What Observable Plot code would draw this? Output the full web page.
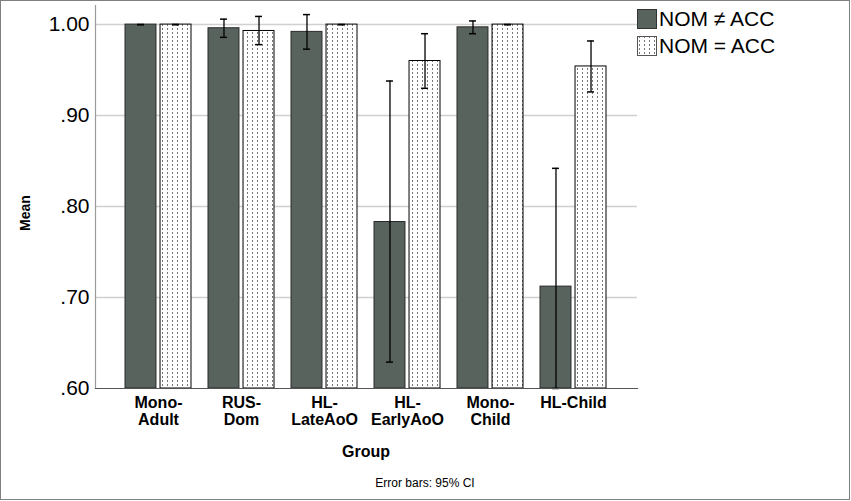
<!DOCTYPE html>
<html>
<head>
<meta charset="utf-8">
<script src="https://cdn.jsdelivr.net/npm/d3@7"></script>
<script src="https://cdn.jsdelivr.net/npm/@observablehq/plot@0.6"></script>
<style>
  html, body { margin: 0; padding: 0; background: #fff; }
  body { font-family: "Liberation Sans", Arial, sans-serif; }
  #wrap { position: relative; width: 851px; height: 501px; overflow: hidden; background: #fff; }
  #frame { position: absolute; left: 0; top: 0; width: 848px; height: 498px; border: 1px solid #808080; pointer-events: none; }
  #chart { position: absolute; left: 0; top: 0; }
  .lbl { position: absolute; white-space: nowrap; color: #000; transform: translate(-50%, -50%); }
  #ylab { left: 25px; top: 213px; font-size: 14px; font-weight: bold; transform: translate(-50%, -50%) rotate(-90deg); }
  #xlab { left: 366px; top: 452px; font-size: 16px; font-weight: bold; }
  #cap { left: 425px; top: 483px; font-size: 12px; }
  #legend { position: absolute; left: 637px; top: 5px; font-size: 21px; color: #000; }
  .row { display: flex; align-items: center; height: 27px; }
  .sw { width: 20px; height: 20px; margin-right: 2px; }
  g[aria-label="x-axis tick label"] text { font-weight: bold; }
</style>
</head>
<body>
<div id="wrap">
  <div id="chart"></div>
  <div id="ylab" class="lbl">Mean</div>
  <div id="xlab" class="lbl">Group</div>
  <div id="cap" class="lbl">Error bars: 95% CI</div>
  <div id="legend"></div>
  <div id="frame"></div>
</div>
<script>
// ---- data ----
const categories = ["Mono-Adult", "RUS-Dom", "HL-LateAoO", "HL-EarlyAoO", "Mono-Child", "HL-Child"];
const tickLabels = ["Mono-\nAdult", "RUS-\nDom", "HL-\nLateAoO", "HL-\nEarlyAoO", "Mono-\nChild", "HL-Child"];
const series = ["NOM \u2260 ACC", "NOM = ACC"];
const meanNeq = [1.000, 0.996, 0.992, 0.783, 0.997, 0.712];
const lowNeq  = [1.000, 0.986, 0.973, 0.629, 0.990, 0.600];
const highNeq = [1.000, 1.006, 1.011, 0.938, 1.004, 0.842];
const meanEq  = [1.000, 0.993, 1.000, 0.960, 1.000, 0.954];
const lowEq   = [1.000, 0.978, 1.000, 0.930, 1.000, 0.926];
const highEq  = [1.000, 1.009, 1.000, 0.990, 1.000, 0.982];
const yTicks = [0.6, 0.7, 0.8, 0.9, 1.0];
const yDomain = [0.6, 1.021];

// ---- layout / style ----
const W = 851, H = 501;
const ml = 95, mr = 214, mt = 5, mb = 113;
const pInner = 0.2, pOuter = 0.333;
const darkFill = "#59635d";
const dotColor = "#777";

const rowsA = categories.map((c, i) => ({group: c, series: series[0], mean: meanNeq[i], lo: lowNeq[i], hi: highNeq[i]}));
const rowsB = categories.map((c, i) => ({group: c, series: series[1], mean: meanEq[i], lo: lowEq[i], hi: highEq[i]}));

const step = (W - ml - mr) / (categories.length - pInner + 2 * pOuter);
const bw = step * (1 - pInner);
const gap = 3;
const barW = (bw - gap) / 2;
const off = (barW + gap) / 2;
const capHalf = 4;

const fmt = d => d3.format(".2f")(d).replace(/^0/, "");
const patternHTML = id => '<pattern id="' + id + '" patternUnits="userSpaceOnUse" x="0" y="0" width="5" height="4">' +
  '<rect width="5" height="4" fill="#fff"/><rect x="2" y="0" width="1" height="2" fill="' + dotColor + '"/></pattern>';

const svg = Plot.plot({
  width: W, height: H,
  marginLeft: ml, marginRight: mr, marginTop: mt, marginBottom: mb,
  style: {fontFamily: "'Liberation Sans', Arial, sans-serif", background: "transparent", color: "#000"},
  x: {type: "band", domain: categories, paddingInner: pInner, paddingOuter: pOuter, label: null},
  y: {domain: yDomain, label: null},
  marks: [
    Plot.ruleY(yTicks.slice(1), {stroke: "#d0d0d0", strokeWidth: 1.5}),
    Plot.barY(rowsA, {x: "group", y1: () => yDomain[0], y2: "mean", fill: darkFill, stroke: "#2a2a2a", strokeWidth: 1, insetRight: bw - barW}),
    Plot.barY(rowsB, {x: "group", y1: () => yDomain[0], y2: "mean", fill: "url(#dots)", stroke: "#000", strokeWidth: 1, insetLeft: bw - barW}),
    Plot.ruleX(rowsA, {x: "group", y1: "lo", y2: "hi", dx: -off, stroke: "#000", strokeWidth: 1.3}),
    Plot.ruleX(rowsB, {x: "group", y1: "lo", y2: "hi", dx: off, stroke: "#000", strokeWidth: 1.3}),
    Plot.tickY(rowsA, {x: "group", y: "lo", insetLeft: barW / 2 - capHalf, insetRight: bw - barW / 2 - capHalf, stroke: "#000", strokeWidth: 1.5}),
    Plot.tickY(rowsA, {x: "group", y: "hi", insetLeft: barW / 2 - capHalf, insetRight: bw - barW / 2 - capHalf, stroke: "#000", strokeWidth: 1.5}),
    Plot.tickY(rowsB, {x: "group", y: "lo", insetLeft: bw - barW / 2 - capHalf, insetRight: barW / 2 - capHalf, stroke: "#000", strokeWidth: 1.5}),
    Plot.tickY(rowsB, {x: "group", y: "hi", insetLeft: bw - barW / 2 - capHalf, insetRight: barW / 2 - capHalf, stroke: "#000", strokeWidth: 1.5}),
    Plot.frame({anchor: "left", stroke: "#9a9a9a", strokeWidth: 1.2}),
    Plot.frame({anchor: "bottom", stroke: "#555", strokeWidth: 1.2}),
    Plot.axisY({ticks: yTicks, tickSize: 0, tickPadding: 6, tickFormat: fmt, fontSize: 21, label: null}),
    Plot.axisX({tickSize: 0, tickPadding: 7, tickFormat: d => tickLabels[categories.indexOf(d)], fontSize: 16, fontWeight: "bold", lineHeight: 1.06, label: null})
  ]
});

d3.select(svg).insert("defs", ":first-child").html(patternHTML("dots"));
document.getElementById("chart").appendChild(svg);

// legend
const legend = d3.select("#legend");
const swA = legend.append("div").attr("class", "row");
swA.append("div").attr("class", "sw").style("background", darkFill).style("border", "1px solid #333").style("box-sizing", "border-box");
swA.append("span").text(series[0]);
const swB = legend.append("div").attr("class", "row");
const sB = swB.append("svg").attr("class", "sw").attr("width", 20).attr("height", 20);
sB.append("defs").html(patternHTML("dotsL"));
sB.append("rect").attr("x", 0.5).attr("y", 0.5).attr("width", 19).attr("height", 19).attr("fill", "url(#dotsL)").attr("stroke", "#555");
swB.append("span").text(series[1]);
</script>
</body>
</html>
